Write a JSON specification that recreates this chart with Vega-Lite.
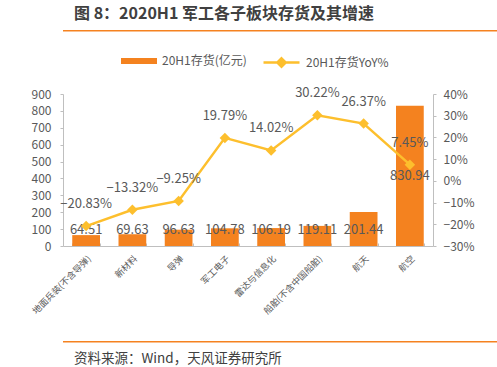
{
  "$schema": "https://vega.github.io/schema/vega-lite/v6.json",
  "padding": {"left": 3, "top": 5, "right": 6, "bottom": 0},
  "background": "white",
  "config": {
    "font": "Noto Sans CJK SC",
    "view": {"stroke": null},
    "axis": {"labelFont": "Noto Sans CJK SC", "labelColor": "#595959", "domainColor": "#BFBFBF", "tickColor": "#BFBFBF", "grid": false, "labelOverlap": false, "labelSeparation": -40, "labelBound": false},
    "axisLeft": {"tickCount": 10},
    "axisRight": {"tickCount": 8},
    "legend": {"labelFont": "Noto Sans CJK SC"}
  },
  "datasets": {
    "d": [
      {"cat": "地面兵装(不含导弹)", "inv": 64.51, "yoy": -0.2083},
      {"cat": "新材料", "inv": 69.63, "yoy": -0.1332},
      {"cat": "导弹", "inv": 96.63, "yoy": -0.0925},
      {"cat": "军工电子", "inv": 104.78, "yoy": 0.1979},
      {"cat": "雷达与信息化", "inv": 106.19, "yoy": 0.1402},
      {"cat": "船舶(不含中国船舶)", "inv": 119.11, "yoy": 0.3022},
      {"cat": "航天", "inv": 201.44, "yoy": 0.2637},
      {"cat": "航空", "inv": 830.94, "yoy": 0.0745}
    ]
  },
  "spacing": 19,
  "align": "none",
  "resolve": {"scale": {"fill": "independent", "stroke": "independent"}, "legend": {"fill": "independent", "stroke": "independent"}},
  "vconcat": [
    {
      "width": 488,
      "height": 1.5,
      "data": {"name": "d"},
      "view": {"stroke": null, "fill": "#F58220"},
      "title": {"text": "图 8：2020H1 军工各子板块存货及其增速", "anchor": "start", "dx": 11, "fontSize": 16, "fontWeight": "bold", "color": "#404040", "offset": 3},
      "mark": {"type": "text"},
      "encoding": {"text": {"value": ""}}
    },
    {
      "width": 370,
      "height": 152,
      "data": {"name": "d"},
      "layer": [
        {
          "layer": [
            {
              "mark": {"type": "bar"},
              "encoding": {
                "x": {"field": "cat", "type": "nominal", "sort": null, "scale": {"paddingInner": 0.4, "paddingOuter": 0.2},
                  "axis": {"title": null, "labelAngle": -45, "labelFontSize": 9, "tickBand": "extent", "tickSize": -3, "labelPadding": 11}},
                "y": {"field": "inv", "type": "quantitative", "scale": {"domain": [0, 900]},
                  "axis": {"title": "x", "titleColor": "transparent", "titleFontSize": 10, "titlePadding": 18, "values": [0,100,200,300,400,500,600,700,800,900], "labelOverlap": false, "tickSize": 3, "labelPadding": 9, "labelFontSize": 12}},
                "fill": {"datum": "20H1存货(亿元)", "type": "nominal", "scale": {"range": ["#F4821F"]},
                  "legend": {"orient": "none", "legendX": 70, "legendY": -39, "title": null, "symbolType": "M-3,-0.5L3,-0.5L3,0.5L-3,0.5Z", "symbolSize": 144, "symbolStrokeWidth": 0, "labelFontSize": 12, "labelColor": "#595959", "labelOffset": 17}}
              }
            },
            {
              "transform": [{"filter": "datum.cat !== '航空'"}],
              "mark": {"type": "text", "fontSize": 13, "color": "#595959", "baseline": "middle", "dy": -16},
              "encoding": {
                "x": {"field": "cat", "type": "nominal", "sort": null},
                "y": {"datum": 0, "type": "quantitative",
                  "axis": {"title": "x", "titleColor": "transparent", "titleFontSize": 10, "titlePadding": 18, "values": [0,100,200,300,400,500,600,700,800,900], "labelOverlap": false, "tickSize": 3, "labelPadding": 9, "labelFontSize": 12}},
                "text": {"field": "inv", "type": "quantitative", "format": ".2f"}
              }
            },
            {
              "transform": [{"filter": "datum.cat === '航空'"}],
              "mark": {"type": "text", "fontSize": 13, "color": "#595959", "baseline": "middle", "dy": 70},
              "encoding": {
                "x": {"field": "cat", "type": "nominal", "sort": null},
                "y": {"field": "inv", "type": "quantitative",
                  "axis": {"title": "x", "titleColor": "transparent", "titleFontSize": 10, "titlePadding": 18, "values": [0,100,200,300,400,500,600,700,800,900], "labelOverlap": false, "tickSize": 3, "labelPadding": 9, "labelFontSize": 12}},
                "text": {"field": "inv", "type": "quantitative", "format": ".2f"}
              }
            }
          ]
        },
        {
          "layer": [
            {
              "mark": {"type": "line", "strokeWidth": 2.5},
              "encoding": {
                "x": {"field": "cat", "type": "nominal", "sort": null},
                "y": {"field": "yoy", "type": "quantitative", "scale": {"domain": [-0.3, 0.4]},
                  "axis": {"orient": "right", "title": null, "labelExpr": "format(datum.value, '.0%')", "values": [-0.3,-0.2,-0.1,0,0.1,0.2,0.3,0.4], "labelOverlap": false, "labelSeparation": -40, "tickSize": 3, "labelPadding": 7, "labelFontSize": 12}},
                "stroke": {"datum": "20H1存货YoY%", "type": "nominal", "scale": {"range": ["#FDBF2D"]},
                  "legend": {"orient": "none", "legendX": 211, "legendY": -39, "title": null, "symbolType": "M-3,0L3,0M0,-0.7L0.7,0L0,0.7L-0.7,0Z", "symbolSize": 144, "symbolStrokeWidth": 2.5, "symbolFillColor": "#FDBF2D", "labelFontSize": 12, "labelColor": "#595959", "labelOffset": 17}}
              }
            },
            {
              "mark": {"type": "point", "shape": "diamond", "filled": true, "size": 110, "color": "#FDBF2D", "opacity": 1},
              "encoding": {
                "x": {"field": "cat", "type": "nominal", "sort": null},
                "y": {"field": "yoy", "type": "quantitative",
                  "axis": {"orient": "right", "title": null, "labelExpr": "format(datum.value, '.0%')", "values": [-0.3,-0.2,-0.1,0,0.1,0.2,0.3,0.4], "labelOverlap": false, "labelSeparation": -40, "tickSize": 3, "labelPadding": 7, "labelFontSize": 12}}
              }
            },
            {
              "mark": {"type": "text", "fontSize": 13, "color": "#595959", "baseline": "middle", "dy": -22},
              "encoding": {
                "x": {"field": "cat", "type": "nominal", "sort": null},
                "y": {"field": "yoy", "type": "quantitative",
                  "axis": {"orient": "right", "title": null, "labelExpr": "format(datum.value, '.0%')", "values": [-0.3,-0.2,-0.1,0,0.1,0.2,0.3,0.4], "labelOverlap": false, "labelSeparation": -40, "tickSize": 3, "labelPadding": 7, "labelFontSize": 12}},
                "text": {"field": "yoy", "type": "quantitative", "format": ".2%"}
              }
            }
          ]
        }
      ],
      "resolve": {"scale": {"y": "independent"}}
    },
    {
      "width": 488,
      "height": 1.5,
      "data": {"name": "d"},
      "view": {"stroke": null, "fill": "#F58220"},
      "title": {"text": "资料来源：Wind，天风证券研究所", "orient": "bottom", "anchor": "start", "dx": 11, "fontSize": 13.5, "fontWeight": "normal", "color": "#404040", "offset": 5},
      "mark": {"type": "text"},
      "encoding": {"text": {"value": ""}}
    }
  ]
}
